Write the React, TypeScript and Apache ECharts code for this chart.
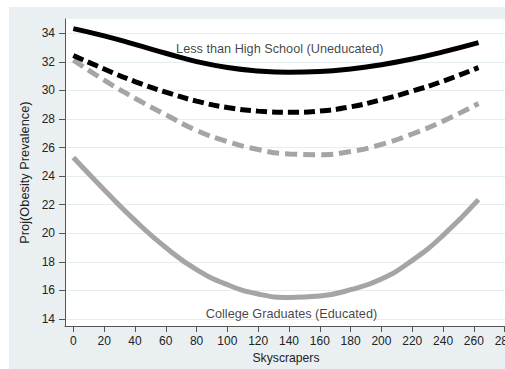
import React, { useEffect, useRef } from "react";
import * as echarts from "echarts";

const xValues = [0, 20, 40, 60, 80, 100, 120, 140, 160, 180, 200, 220, 240, 263];
const uneducatedSolid = [34.33, 33.82, 33.22, 32.6, 32.02, 31.6, 31.36, 31.27, 31.32, 31.5, 31.8, 32.2, 32.7, 33.35];
const blackDashed = [32.45, 31.5, 30.62, 29.88, 29.25, 28.8, 28.55, 28.47, 28.56, 28.85, 29.35, 29.95, 30.65, 31.6];
const grayDashed = [32.12, 30.72, 29.45, 28.3, 27.2, 26.42, 25.86, 25.55, 25.5, 25.72, 26.22, 26.95, 27.85, 29.08];
const collegeSolid = [25.3, 23.05, 20.9, 19.0, 17.45, 16.4, 15.75, 15.5, 15.6, 16.05, 16.8, 18.1, 19.85, 22.35];

const xTicks = [0, 20, 40, 60, 80, 100, 120, 140, 160, 180, 200, 220, 240, 260, 280];
const yTicks = [14, 16, 18, 20, 22, 24, 26, 28, 30, 32, 34];

const annotationTexts = ["Less than High School (Uneducated)", "College Graduates (Educated)"];
const annotationPoints = [
  [134, 32.92],
  [141.6, 14.35],
];

const xAxisName = "Skyscrapers";
const yAxisName = "Proj(Obesity Prevalence)";

const FONT = "'Liberation Sans', Arial, sans-serif";

function pairs(ys: number[]) {
  return xValues.map((x, i) => [x, ys[i]]);
}

export default function App() {
  const ref = useRef<HTMLDivElement>(null);
  useEffect(() => {
    if (!ref.current) return;
    const chart = echarts.init(ref.current, undefined, { renderer: "svg" });
    const lineBase = {
      type: "line",
      showSymbol: false,
      symbol: "none",
      smooth: true,
      silent: true,
    };
    chart.setOption({
      animation: false,
      backgroundColor: "#eaf0f2",
      grid: {
        left: 56,
        top: 12,
        right: 22,
        bottom: 42,
        show: true,
        backgroundColor: "#ffffff",
        borderWidth: 0,
      },
      xAxis: {
        type: "value",
        min: -5.4,
        max: 281.5,
        name: xAxisName,
        nameLocation: "middle",
        nameGap: 22,
        nameTextStyle: { fontFamily: FONT, fontSize: 12.2, color: "#222" },
        axisLine: { show: true, onZero: false, lineStyle: { color: "#555", width: 1 } },
        axisTick: { show: true, length: 6, lineStyle: { color: "#555" }, customValues: xTicks },
        axisLabel: {
          show: true,
          margin: 9,
          fontFamily: FONT,
          fontSize: 12,
          color: "#222",
          customValues: xTicks,
          showMinLabel: true,
          showMaxLabel: true,
        },
        splitLine: { show: false },
      },
      yAxis: {
        type: "value",
        min: 13.5,
        max: 35,
        name: yAxisName,
        nameLocation: "middle",
        nameGap: 27,
        nameRotate: 90,
        nameTextStyle: { fontFamily: FONT, fontSize: 12.8, color: "#222" },
        axisLine: { show: true, onZero: false, lineStyle: { color: "#555", width: 1 } },
        axisTick: { show: true, length: 6, lineStyle: { color: "#555" }, customValues: yTicks },
        axisLabel: {
          show: true,
          margin: 10,
          fontFamily: FONT,
          fontSize: 12,
          color: "#222",
          customValues: yTicks,
        },
        splitLine: { show: true, lineStyle: { color: "#e4eef0", width: 1 } },
      },
      series: [
        {
          ...lineBase,
          name: "College",
          data: pairs(collegeSolid),
          lineStyle: { color: "#a5a5a5", width: 5, type: "solid", cap: "butt" },
        },
        {
          ...lineBase,
          name: "GrayDashed",
          data: pairs(grayDashed),
          lineStyle: { color: "#a5a5a5", width: 5, type: [12, 6], cap: "butt" },
        },
        {
          ...lineBase,
          name: "BlackDashed",
          data: pairs(blackDashed),
          lineStyle: { color: "#000000", width: 5, type: [11, 5], cap: "butt" },
        },
        {
          ...lineBase,
          name: "Uneducated",
          data: pairs(uneducatedSolid),
          lineStyle: { color: "#000000", width: 5, type: "solid", cap: "butt" },
        },
        {
          type: "scatter",
          silent: true,
          symbolSize: 0,
          data: annotationPoints.map((p, i) => ({ value: p, name: annotationTexts[i] })),
          label: {
            show: true,
            position: "inside",
            formatter: (p: any) => p.name,
            fontFamily: FONT,
            fontSize: 12.7,
            color: "#111",
          },
        },
      ],
    });
    return () => chart.dispose();
  }, []);
  return (
    <div
      style={{
        position: "fixed",
        left: 9,
        top: 7,
        width: 496,
        height: 362,
        overflow: "hidden",
      }}
    >
      <div ref={ref} style={{ width: 520, height: 362 }} />
    </div>
  );
}
